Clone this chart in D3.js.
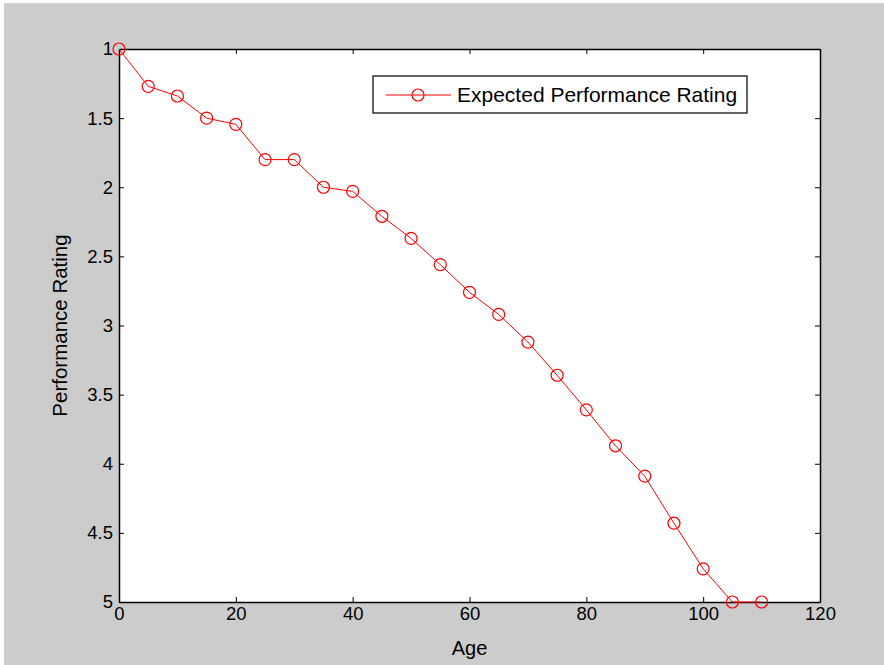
<!DOCTYPE html>
<html lang="en">
<head>
<meta charset="utf-8">
<title>Expected Performance Rating</title>
<script src="https://cdn.jsdelivr.net/npm/d3@7"></script>
<style>
body { margin:0; background:#fff; }
svg { display:block; font-family:'Liberation Sans', Arial, sans-serif; }
.axis text { font-size:18.5px; fill:#000; }
.axis path, .axis line { stroke:#000; }
</style>
</head>
<body>
<svg width="884" height="665"></svg>
<script>
// values
var ages = [0, 5, 10, 15, 20, 25, 30, 35, 40, 45, 50, 55, 60, 65, 70, 75, 80, 85, 90, 95, 100, 105, 110];
var rating = [1.0, 1.27, 1.34, 1.5, 1.545, 1.8, 1.8, 2.0, 2.03, 2.21, 2.37, 2.56, 2.76, 2.92, 3.12, 3.36, 3.61, 3.87, 4.09, 4.43, 4.76, 5.0, 5.0];
var xTicks = [0, 20, 40, 60, 80, 100, 120];
var yTicks = [1, 1.5, 2, 2.5, 3, 3.5, 4, 4.5, 5];
var seriesName = "Expected Performance Rating";

var svg = d3.select("svg");
var margin = {top: 49, right: 64, bottom: 63, left: 119};
var width = 884 - margin.left - margin.right,
    height = 665 - margin.top - margin.bottom;

svg.append("rect").attr("x", 4).attr("y", 3).attr("width", 880).attr("height", 662).attr("fill", "#cccccc");

var g = svg.append("g").attr("transform", "translate(" + margin.left + "," + margin.top + ")");

var x = d3.scaleLinear().domain([0, 120]).range([0, width]);
var y = d3.scaleLinear().domain([1, 5]).range([0, height]);

g.append("rect").attr("width", width).attr("height", height).attr("fill", "#fff");

// inward ticks on all four sides, MATLAB style
var fmt = function(d) { return String(d); };
g.append("g").attr("class", "axis").attr("transform", "translate(0," + height + ")")
  .call(d3.axisBottom(x).tickValues(xTicks).tickFormat(fmt).tickSizeInner(-5).tickSizeOuter(0).tickPadding(5));
g.append("g").attr("class", "axis")
  .call(d3.axisTop(x).tickValues(xTicks).tickFormat("").tickSizeInner(-5).tickSizeOuter(0));
g.append("g").attr("class", "axis")
  .call(d3.axisLeft(y).tickValues(yTicks).tickFormat(fmt).tickSizeInner(-5).tickSizeOuter(0).tickPadding(6));
g.append("g").attr("class", "axis").attr("transform", "translate(" + width + ",0)")
  .call(d3.axisRight(y).tickValues(yTicks).tickFormat("").tickSizeInner(-5).tickSizeOuter(0));

g.selectAll(".axis path").attr("stroke-width", 1.5);

var pts = ages.map(function(a, i) { return [a, rating[i]]; });

g.append("path").datum(pts)
  .attr("fill", "none").attr("stroke", "#ff0000").attr("stroke-width", 1)
  .attr("d", d3.line().x(function(d) { return x(d[0]); }).y(function(d) { return y(d[1]); }));

g.selectAll("circle.pt").data(pts).enter().append("circle")
  .attr("class", "pt")
  .attr("cx", function(d) { return x(d[0]); })
  .attr("cy", function(d) { return y(d[1]); })
  .attr("r", 6)
  .attr("fill", "none").attr("stroke", "#ff0000").attr("stroke-width", 1.2);

// axis labels
svg.append("text").attr("x", margin.left + width / 2).attr("y", 655)
  .attr("text-anchor", "middle").style("font-size", "20px").text("Age");
svg.append("text").attr("transform", "translate(67," + (margin.top + height / 2) + ") rotate(-90)")
  .attr("text-anchor", "middle").style("font-size", "20.5px").text("Performance Rating");

// legend
var lg = svg.append("g").attr("transform", "translate(373,76)");
lg.append("rect").attr("width", 374).attr("height", 37).attr("fill", "#fff").attr("stroke", "#000").attr("stroke-width", 1.2);
lg.append("line").attr("x1", 13).attr("x2", 78).attr("y1", 19).attr("y2", 19).attr("stroke", "#ff0000");
lg.append("circle").attr("cx", 45).attr("cy", 19).attr("r", 6).attr("fill", "none").attr("stroke", "#ff0000").attr("stroke-width", 1.2);
lg.append("text").attr("x", 84).attr("y", 26).style("font-size", "21px").text(seriesName);
</script>
</body>
</html>
